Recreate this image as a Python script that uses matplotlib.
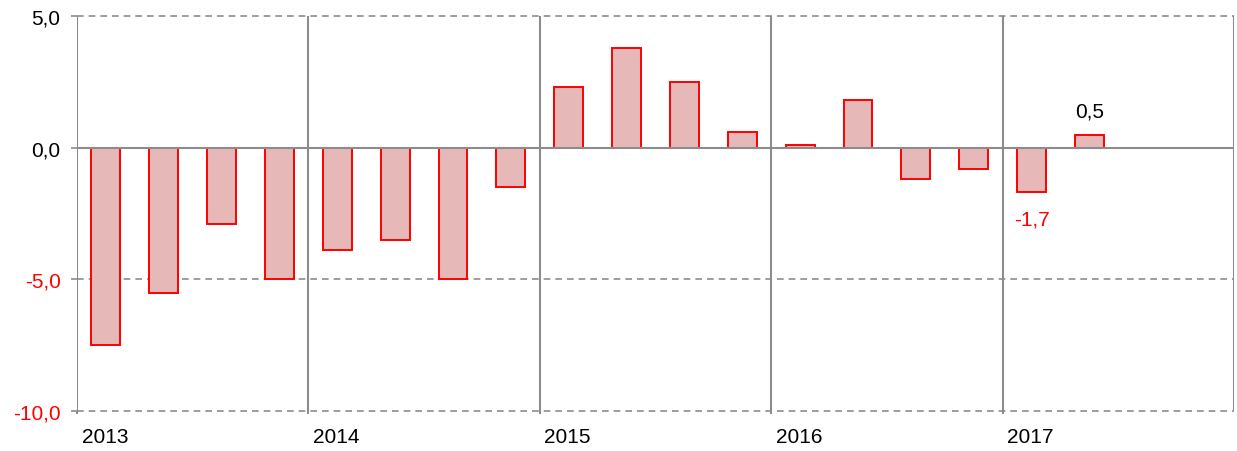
import numpy as np
import matplotlib

matplotlib.use("Agg")
import matplotlib.pyplot as plt
from matplotlib.transforms import blended_transform_factory

plt.rcParams["font.family"] = ["Liberation Sans", "DejaVu Sans"]

years = ["2013", "2014", "2015", "2016", "2017"]
values = [-7.5, -5.5, -2.9, -5.0,
          -3.9, -3.5, -5.0, -1.5,
          2.3, 3.8, 2.5, 0.6,
          0.1, 1.8, -1.2, -0.8,
          -1.7, 0.5]
n_slots = 20
yticks = [5, 0, -5, -10]
ytick_labels = ["5,0", "0,0", "-5,0", "-10,0"]
ytick_colors = ["black", "black", "red", "red"]

GRAY = "#8c8c8c"
FILL = "#e6b8b8"
FS = 15

fig = plt.figure(figsize=(12.37, 4.52), dpi=100)
ax = fig.add_axes([77 / 1237, 1 - 412 / 452, (1234 - 77) / 1237, (412 - 17) / 452])

x = np.arange(len(values))
ax.bar(x, values, width=0.5, color=FILL, edgecolor="red", linewidth=1.4, zorder=2)

ax.set_xlim(-0.5, n_slots - 0.5)
ax.set_ylim(-10, 5)

# horizontal lines
for yv in (5, -5, -10):
    ax.axhline(yv, color=GRAY, lw=1.2, ls=(0, (4, 3)), clip_on=False, zorder=1)
ax.axhline(0, color=GRAY, lw=1.5, zorder=3)

# year separators
for i in range(len(years)):
    ax.axvline(i * 4 - 0.5, color=GRAY, lw=1.5, zorder=1)
ax.axvline(n_slots - 0.5, color=GRAY, lw=1.5, zorder=1)

for s in ax.spines.values():
    s.set_visible(False)

ax.set_xticks([i * 4 - 0.5 for i in range(len(years))])
ax.set_xticklabels([])
ax.tick_params(axis="x", length=2, color=GRAY, width=1.5)
ax.set_yticks(yticks)
ax.set_yticklabels(ytick_labels, fontsize=FS)
ax.tick_params(axis="y", length=4.3, color=GRAY, width=1.2, pad=7.5)
for lab, c in zip(ax.get_yticklabels(), ytick_colors):
    lab.set_color(c)

trans = blended_transform_factory(ax.transData, ax.transAxes)
for i, yr in enumerate(years):
    ax.text(i * 4 - 0.5 + 0.08, -0.04, yr, transform=trans, ha="left", va="top",
            fontsize=FS, color="black")

# value labels
ax.annotate("0,5", (17, values[17]), xytext=(0, 10), textcoords="offset points",
            ha="center", va="bottom", fontsize=FS, color="black")
ax.annotate("-1,7", (16, values[16]), xytext=(0, -12), textcoords="offset points",
            ha="center", va="top", fontsize=FS, color="red")

fig.savefig("out.png", dpi=100)
